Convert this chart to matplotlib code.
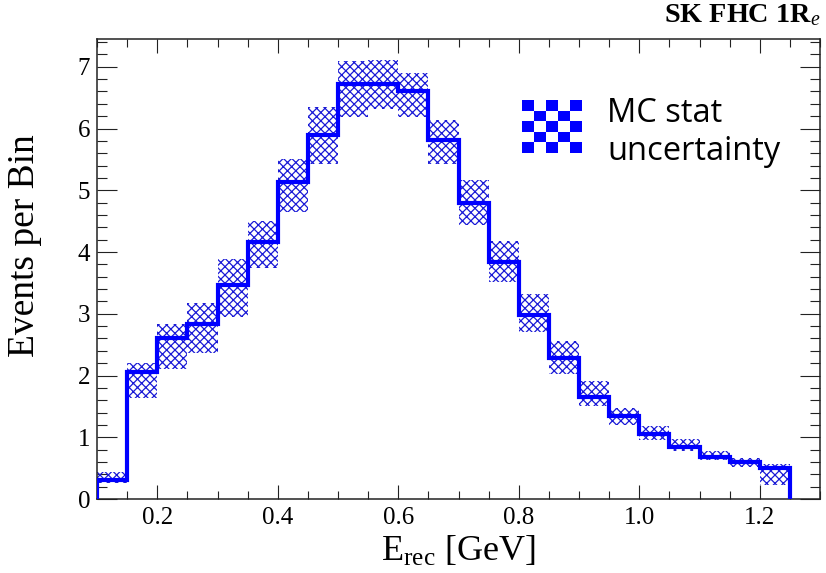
import matplotlib
matplotlib.use("Agg")
import matplotlib.pyplot as plt
from matplotlib.patches import Rectangle, Patch
from matplotlib.legend_handler import HandlerBase
from matplotlib.ticker import MultipleLocator, FormatStrFormatter

# ---------------- data ----------------
bin_edges = [0.10, 0.15, 0.20, 0.25, 0.30, 0.35, 0.40, 0.45, 0.50, 0.55, 0.60, 0.65,
             0.70, 0.75, 0.80, 0.85, 0.90, 0.95, 1.00, 1.05, 1.10, 1.15, 1.20, 1.25]
events = [0.31, 2.06, 2.60, 2.83, 3.47, 4.16, 5.13, 5.90, 6.72, 6.72, 6.61, 5.82,
          4.79, 3.84, 2.98, 2.29, 1.66, 1.35, 1.05, 0.85, 0.68, 0.60, 0.51]
mc_stat_high = [0.43, 2.20, 2.83, 3.18, 3.89, 4.51, 5.50, 6.35, 7.09, 7.11, 6.90, 6.14,
                5.16, 4.18, 3.32, 2.56, 1.91, 1.48, 1.18, 0.97, 0.78, 0.67, 0.57]
mc_stat_low = [0.26, 1.63, 2.11, 2.36, 2.95, 3.74, 4.65, 5.43, 6.19, 6.32, 6.19, 5.42,
               4.44, 3.52, 2.71, 2.03, 1.50, 1.20, 0.95, 0.78, 0.63, 0.52, 0.23]
x_ticks = [0.2, 0.4, 0.6, 0.8, 1.0, 1.2]
y_ticks = [0, 1, 2, 3, 4, 5, 6, 7]

# ---------------- style ----------------
plt.rcParams['font.family'] = ['Liberation Serif', 'DejaVu Serif']
plt.rcParams['mathtext.fontset'] = 'custom'
plt.rcParams['mathtext.rm'] = 'Liberation Serif'
plt.rcParams['mathtext.it'] = 'Liberation Serif:italic'
plt.rcParams['mathtext.bf'] = 'Liberation Serif:bold'
plt.rcParams['hatch.linewidth'] = 0.9

fig = plt.figure(figsize=(8.26, 5.73), dpi=100)
ax = fig.add_axes([97 / 826, 1 - 499 / 573, 723 / 826, 460 / 573])

# MC stat uncertainty band (hatched)
ax.stairs(mc_stat_high, bin_edges, baseline=mc_stat_low, fill=True,
          facecolor='none', edgecolor='#1a1ad6', hatch='xxxx', linewidth=0,
          zorder=2)
# histogram
ax.stairs(events, bin_edges, baseline=0, color='#0000ff', linewidth=3.0,
          zorder=3)

ax.set_xlim(0.1, 1.3)
ax.set_ylim(0, 7.45)

ax.set_xticks(x_ticks)
ax.set_yticks(y_ticks)
ax.xaxis.set_major_formatter(FormatStrFormatter('%.1f'))
ax.xaxis.set_minor_locator(MultipleLocator(0.05))
ax.yaxis.set_minor_locator(MultipleLocator(0.2))

ax.tick_params(which='both', direction='in', top=True, right=True,
               width=0.8, labelsize=18, colors='#222222', labelcolor='black')
ax.tick_params(axis='x', which='major', length=10, pad=6)
ax.tick_params(axis='x', which='minor', length=5.5)
ax.tick_params(axis='y', which='major', length=14.5, pad=5)
ax.tick_params(axis='y', which='minor', length=7.5)
for s in ax.spines.values():
    s.set_linewidth(1.1)
    s.set_color('#222222')

ax.set_xlabel(r'E$_{\mathrm{rec}}$ [GeV]', fontsize=26)
ax.set_ylabel('Events per Bin', fontsize=27)
ax.xaxis.set_label_coords(0.5, -0.078)
ax.yaxis.set_label_coords(-0.076, 0.55)

fig.text(0.993, 0.974, r'SK FHC 1R$_{e}$', ha='right', va='center',
         fontsize=20.3, fontweight='bold')


class CheckerHandler(HandlerBase):
    def create_artists(self, legend, orig_handle, xdescent, ydescent,
                       width, height, fontsize, trans):
        n = 5
        cw = width / n
        ch = height / n
        dy = 0.25 * fontsize
        arts = []
        for i in range(n):
            for j in range(n):
                fc = '#0000ff' if (i + j) % 2 == 0 else 'white'
                arts.append(Rectangle((-xdescent + i * cw, -ydescent + j * ch + dy),
                                      cw, ch, facecolor=fc, edgecolor='none',
                                      transform=trans))
        return arts


ax.legend(handles=[Patch()], labels=['MC stat\nuncertainty'],
          handler_map={Patch: CheckerHandler()},
          loc='upper left', bbox_to_anchor=(0.588, 0.874),
          frameon=False, borderpad=0, borderaxespad=0,
          handlelength=1.83, handleheight=2.1, handletextpad=0.77,
          prop={'family': 'Open Sans', 'size': 23.5})

fig.savefig('out.png', dpi=100)
